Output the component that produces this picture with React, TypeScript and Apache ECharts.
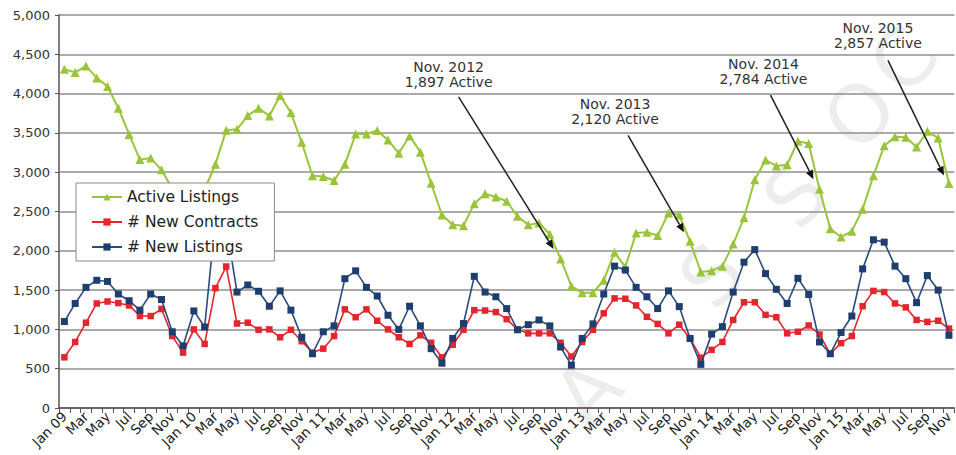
import { useEffect, useRef } from "react";
import * as echarts from "echarts";

// Monthly housing-market figures, Jan 2009 through Nov 2015
const MONTHS = ["Jan", "Feb", "Mar", "Apr", "May", "Jun", "Jul", "Aug", "Sep", "Oct", "Nov", "Dec"];
const YEARS = ["09", "10", "11", "12", "13", "14", "15"];
const MONTH_COUNT = 83;

const categories: string[] = [];
for (let i = 0; i < MONTH_COUNT; i++) {
  const m = i % 12;
  categories.push(m === 0 ? `Jan ${YEARS[Math.floor(i / 12)]}` : MONTHS[m]);
}

const activeListings = [
  4310, 4270, 4350, 4200, 4090, 3815, 3480, 3160, 3180, 3030, 2790, 2640,
  2610, 2780, 3100, 3535, 3545, 3720, 3815, 3715, 3975, 3755, 3380, 2955,
  2945, 2895, 3100, 3485, 3485, 3530, 3410, 3240, 3460, 3255, 2860, 2455,
  2330, 2320, 2600, 2725, 2685, 2630, 2440, 2330, 2355, 2210, 1897, 1550,
  1465, 1465, 1625, 1980, 1795, 2225, 2235, 2195, 2480, 2455, 2120, 1730,
  1745, 1805, 2085, 2420, 2905, 3155, 3080, 3095, 3395, 3365, 2784, 2280,
  2175, 2250, 2530, 2955, 3335, 3450, 3445, 3320, 3520, 3435, 2857,
];

const newContracts = [
  645, 840, 1085, 1330, 1355, 1335, 1305, 1170, 1170, 1260, 915, 705,
  1000, 815, 1525, 1800, 1075, 1085, 995, 1000, 900, 995, 850, 705,
  755, 915, 1255, 1155, 1255, 1110, 1000, 900, 815, 925, 830, 645,
  805, 995, 1245, 1240, 1220, 1130, 1000, 950, 950, 950, 830, 655,
  840, 995, 1205, 1395, 1390, 1305, 1160, 1070, 950, 1060, 885, 640,
  740, 840, 1120, 1345, 1345, 1185, 1155, 950, 970, 1050, 935, 690,
  825, 915, 1295, 1490, 1475, 1330, 1280, 1120, 1095, 1110, 1010,
];

const newListings = [
  1100, 1330, 1535, 1625, 1610, 1450, 1365, 1245, 1450, 1380, 970, 790,
  1235, 1030, 2400, 2330, 1475, 1565, 1485, 1295, 1490, 1245, 900, 690,
  970, 1045, 1645, 1745, 1535, 1425, 1180, 1000, 1295, 1045, 755, 570,
  885, 1075, 1675, 1475, 1415, 1265, 995, 1060, 1120, 1045, 775, 545,
  885, 1070, 1450, 1805, 1755, 1535, 1415, 1265, 1490, 1290, 885, 555,
  940, 1035, 1475, 1855, 2015, 1710, 1510, 1330, 1650, 1445, 840, 690,
  960, 1170, 1770, 2140, 2110, 1805, 1645, 1340, 1685, 1500, 925,
];

const SERIES_NAMES = ["Active Listings", "# New Contracts", "# New Listings"];

// November of each year that gets a callout (month index into the series)
const calloutIndices = [46, 58, 70, 82];

// Callout placement relative to the marked point: text anchor, arrow start, arrow tip
const calloutLayout = [
  { tx: -112, ty: -199, sx: -102, sy: -162, ex: -7, ey: -10 },
  { tx: -75, ty: -145, sx: -62, sy: -106, ex: -6, ey: -9 },
  { tx: -56, ty: -133, sx: -49, sy: -94, ex: -6, ey: -10 },
  { tx: -71, ty: -163, sx: -61, sy: -123, ex: -5, ey: -8 },
];

const WATERMARK = ["A", "S", "S", "O", "C"];
const watermarkLayout = [
  { x: 588, y: 392 },
  { x: 712, y: 276 },
  { x: 796, y: 196 },
  { x: 860, y: 114 },
  { x: 904, y: 60 },
];

const FONT = '"DejaVu Sans", "Liberation Sans", Arial, sans-serif';
const GREEN = "#9AC53A";
const RED = "#E3262D";
const NAVY = "#1D3E6F";

export default function App() {
  const ref = useRef<HTMLDivElement>(null);

  useEffect(() => {
    const el = ref.current;
    if (!el) return;
    const chart = echarts.init(el, undefined, { renderer: "svg" });

    chart.setOption({
      animation: false,
      backgroundColor: "#ffffff",
      textStyle: { fontFamily: FONT },
      grid: { left: 59, right: 0, top: 15, bottom: 47, containLabel: false },
      legend: {
        orient: "vertical",
        left: 76,
        top: 183,
        z: 30,
        data: SERIES_NAMES,
        backgroundColor: "#ffffff",
        borderColor: "#8a8a8a",
        borderWidth: 1,
        borderRadius: 0,
        padding: [6, 16, 6, 15],
        itemGap: 9,
        itemWidth: 30,
        itemHeight: 9,
        textStyle: { fontSize: 15.5, color: "#222", fontFamily: FONT, lineHeight: 16 },
      },
      xAxis: {
        type: "category",
        data: categories,
        boundaryGap: true,
        axisLine: { lineStyle: { color: "#555", width: 1.5 } },
        axisTick: { show: true, interval: 0, length: 5, lineStyle: { color: "#555" } },
        axisLabel: {
          interval: 1,
          rotate: 45,
          fontSize: 13.5,
          color: "#222",
          margin: 6,
          fontFamily: FONT,
        },
        splitLine: { show: false },
      },
      yAxis: {
        type: "value",
        min: 0,
        max: 5000,
        interval: 500,
        axisLine: { show: true, lineStyle: { color: "#555", width: 1.5 } },
        axisTick: { show: true, length: 4, lineStyle: { color: "#555" } },
        axisLabel: {
          fontSize: 13,
          color: "#333",
          margin: 9,
          fontFamily: FONT,
          formatter: (v: number) => v.toLocaleString("en-US"),
        },
        splitLine: { lineStyle: { color: "#8f8f8f", width: 1.5 } },
      },
      series: [
        {
          name: SERIES_NAMES[0],
          type: "line",
          data: activeListings,
          symbol: "triangle",
          symbolSize: 9,
          showAllSymbol: true,
          itemStyle: { color: GREEN },
          lineStyle: { color: GREEN, width: 2 },
          z: 2,
        },
        {
          name: SERIES_NAMES[1],
          type: "line",
          data: newContracts,
          symbol: "rect",
          symbolSize: 6.5,
          showAllSymbol: true,
          itemStyle: { color: RED },
          lineStyle: { color: RED, width: 1.6 },
          z: 3,
        },
        {
          name: SERIES_NAMES[2],
          type: "line",
          data: newListings,
          symbol: "rect",
          symbolSize: 7,
          showAllSymbol: true,
          itemStyle: { color: NAVY },
          lineStyle: { color: "#2A4B7C", width: 1.6 },
          z: 4,
        },
      ],
    });

    // Faint watermark lettering plus the November callouts on the active-listings line
    const graphics: any[] = [];
    WATERMARK.forEach((ch, i) => {
      graphics.push({
        type: "text",
        x: watermarkLayout[i].x,
        y: watermarkLayout[i].y,
        rotation: (47 * Math.PI) / 180,
        silent: true,
        z: -1,
        style: {
          text: ch,
          fontSize: 80,
          fontFamily: FONT,
          fill: "rgba(0,0,0,0.07)",
          align: "center",
          verticalAlign: "middle",
        },
      });
    });

    calloutIndices.forEach((idx, i) => {
      const lay = calloutLayout[i];
      const p = chart.convertToPixel({ xAxisIndex: 0, yAxisIndex: 0 }, [idx, activeListings[idx]]) as number[];
      const px = p[0];
      const py = p[1];
      const year = 2009 + Math.floor(idx / 12);
      const month = MONTHS[idx % 12];
      const label = `${month}. ${year}\n${activeListings[idx].toLocaleString("en-US")} Active`;

      graphics.push({
        type: "text",
        x: px + lay.tx,
        y: py + lay.ty,
        z: 10,
        style: {
          text: label,
          fontSize: 14,
          lineHeight: 15,
          fontFamily: FONT,
          fill: "#333",
          align: "center",
          verticalAlign: "top",
        },
      });

      const x1 = px + lay.sx;
      const y1 = py + lay.sy;
      const x2 = px + lay.ex;
      const y2 = py + lay.ey;
      const len = Math.hypot(x2 - x1, y2 - y1);
      const ux = (x2 - x1) / len;
      const uy = (y2 - y1) / len;
      const head = 9;
      const half = 3.8;
      const bx = x2 - ux * head;
      const by = y2 - uy * head;

      graphics.push({
        type: "line",
        z: 10,
        shape: { x1, y1, x2: bx, y2: by },
        style: { stroke: "#222", lineWidth: 1.5 },
      });
      graphics.push({
        type: "polygon",
        z: 10,
        shape: {
          points: [
            [x2, y2],
            [bx - uy * half, by + ux * half],
            [bx + uy * half, by - ux * half],
          ],
        },
        style: { fill: "#111" },
      });
    });

    chart.setOption({ graphic: graphics });

    return () => {
      chart.dispose();
    };
  }, []);

  return (
    <div
      ref={ref}
      style={{ position: "fixed", left: 0, top: 0, width: 956, height: 455, background: "#fff" }}
    />
  );
}
